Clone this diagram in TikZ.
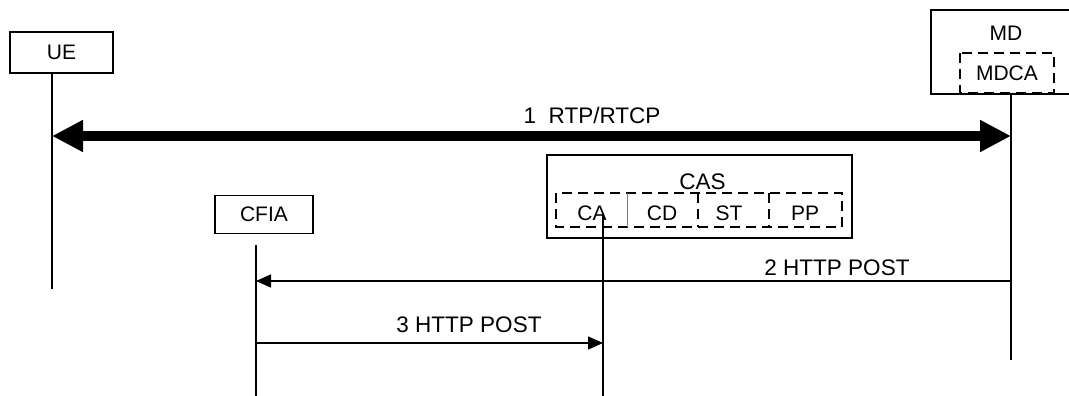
\documentclass[tikz,border=0pt]{standalone}
\usepackage{fontspec}
\setmainfont{Liberation Sans}
\usetikzlibrary{arrows.meta}
\tikzset{
  ent/.style={draw, line width=1.3pt, inner sep=0pt, font=\fontsize{21}{24}\selectfont},
  dbox/.style={draw, dashed, dash pattern=on 10pt off 6pt, line width=1.6pt},
  lbl/.style={font=\fontsize{21}{24}\selectfont, inner sep=0pt},
  mlbl/.style={font=\fontsize{22.5}{26}\selectfont, inner sep=0pt},
  life/.style={line width=1.5pt},
  msg/.style={line width=1.5pt, -{Triangle[length=15pt,width=13pt]}},
  big/.style={line width=10pt, {Triangle[length=31pt,width=30pt]}-{Triangle[length=31pt,width=30pt]}}
}
\begin{document}
\begin{tikzpicture}[x=1pt,y=-1pt]
\useasboundingbox (0,0) rectangle (1069,396);
% UE
\node[ent, minimum width=103pt, minimum height=41pt] (ue) at (61.5,52.5) {UE};
% MD
\draw[line width=1.3pt] (1080,10) -- (931,10) -- (931,94) -- (1080,94);
\node[lbl] (md) at (1006,33) {MD};
\draw[dbox] (960,53) rectangle (1054,93);
\node[lbl] (mdca) at (1007,73) {MDCA};
% CAS
\node[draw, line width=1.3pt, minimum width=305pt, minimum height=83pt, inner sep=0pt] (cas) at (699.5,196.5) {};
\node[mlbl] (caslbl) at (702.5,182) {CAS};
\draw[dbox] (556,193) rectangle (842,227);
\draw[line width=0.6pt, gray] (627,193) -- (627,227);
\draw[line width=1.2pt, dash pattern=on 10pt off 6pt] (698,193) -- (698,227);
\draw[line width=1.2pt, dash pattern=on 10pt off 6pt] (769,193) -- (769,227);
\node[lbl] (ca) at (592,213) {CA};
\node[lbl] (cd) at (662,213) {CD};
\node[lbl] (st) at (729,213) {ST};
\node[lbl] (pp) at (805,213) {PP};
% CFIA
\node[ent, minimum width=98pt, minimum height=38pt] (cfia) at (264,214.5) {CFIA};
% lifeline coordinates
\coordinate (ueT) at (52,73);
\coordinate (ueB) at (52,289);
\coordinate (mdT) at (1011,94);
\coordinate (mdB) at (1011,360);
\coordinate (cfT) at (256,245);
\coordinate (cfB) at (256,396);
\coordinate (caT) at (603,213);
\coordinate (caB) at (603,396);
\draw[life] (ueT) -- (ueB);
\draw[life] (mdT) -- (mdB);
\draw[life] (cfT) -- (cfB);
\draw[life] (caT) -- (caB);
% messages
\coordinate (m1a) at (52,136);
\coordinate (m1b) at (1011,136);
\draw[big] (m1a) -- (m1b);
\node[mlbl] (l1) at (592,115) {1\ \ RTP/RTCP};
\coordinate (m2a) at (1011,281);
\coordinate (m2b) at (256,281);
\draw[msg] (m2a) -- (m2b);
\node[mlbl] (l2) at (837,267.5) {2 HTTP POST};
\coordinate (m3a) at (256,343);
\coordinate (m3b) at (603,343);
\draw[msg] (m3a) -- (m3b);
\node[mlbl] (l3) at (469,325) {3 HTTP POST};
\end{tikzpicture}
\end{document}
